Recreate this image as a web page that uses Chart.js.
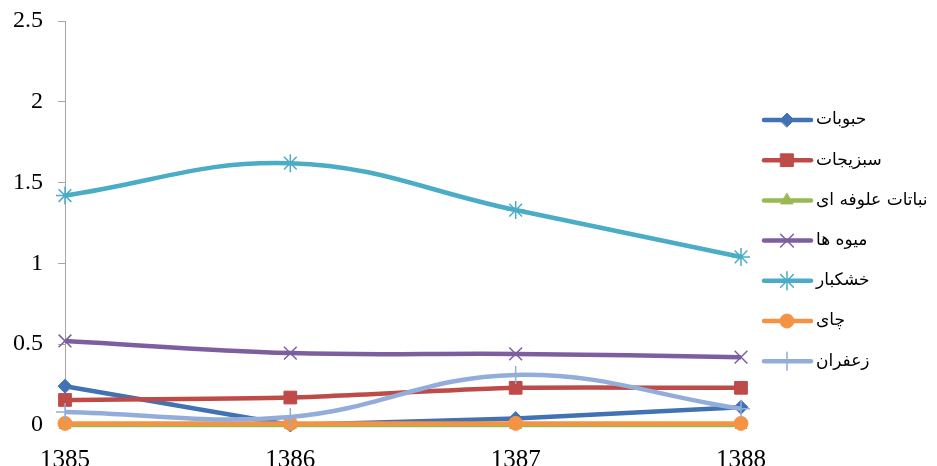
<!DOCTYPE html>
<html>
<head>
<meta charset="utf-8">
<script src="https://cdn.jsdelivr.net/npm/chart.js@4/dist/chart.umd.min.js"></script>
<style>
  html, body { margin: 0; padding: 0; background: #fff; overflow: hidden; }
  #wrap { width: 937px; height: 466px; }
</style>
</head>
<body>
<div id="wrap"><canvas id="lineChart" width="937" height="466"></canvas></div>
<script>
const years = ['1385', '1386', '1387', '1388'];

const hobubat   = [0.24, 0.00, 0.04, 0.11];
const sabzijat  = [0.155, 0.17, 0.23, 0.23];
const olufe     = [0.00, 0.00, 0.00, 0.00];
const mive      = [0.52, 0.445, 0.44, 0.42];
const khoshkbar = [1.42, 1.62, 1.33, 1.04];
const chay      = [0.01, 0.01, 0.01, 0.01];
const zafaran   = [0.08, 0.05, 0.31, 0.10];

const yTicks = [0, 0.5, 1, 1.5, 2, 2.5];

// one entry per crop group: name, values, colour, marker
const series = [
    { label: 'حبوبات',          data: hobubat,   color: '#4172B4', point: 'rectRot',  radius: 7, tension: 0 },
    { label: 'سبزیجات',         data: sabzijat,  color: '#BE4B48', point: 'rect',     radius: 9, tension: 0.2 },
    { label: 'نباتات علوفه ای', data: olufe,     color: '#98B954', point: 'triangle', radius: 7, tension: 0 },
    { label: 'میوه ها',         data: mive,      color: '#7D5FA0', point: 'crossRot', radius: 9, tension: 0.4 },
    { label: 'خشکبار',          data: khoshkbar, color: '#4AACC5', point: 'star',     radius: 9, tension: 0.4 },
    { label: 'چای',             data: chay,      color: '#F59345', point: 'circle',   radius: 7, tension: 0 },
    { label: 'زعفران',          data: zafaran,   color: '#93ADDA', point: 'cross',    radius: 9, tension: 0.4 }
];

const thinMarkers = ['crossRot', 'star', 'cross'];

const datasets = series.map((s, i) => ({
    label: s.label,
    data: s.data,
    borderColor: s.color,
    backgroundColor: s.color,
    borderWidth: 4.5,
    tension: s.tension,
    pointStyle: s.point,
    pointRadius: s.radius,
    pointBorderWidth: thinMarkers.includes(s.point) ? 1.5 : 1,
    pointBorderColor: s.color,
    pointBackgroundColor: s.color,
    order: series.length - i,
    clip: false
}));

// legend on the right: line sample with the marker in the middle, text after it
const sideLegend = {
    id: 'sideLegend',
    afterDraw(chart) {
        const ctx = chart.ctx;
        ctx.save();
        series.forEach((s, i) => {
            const y = 120 + i * 40.2;
            ctx.strokeStyle = s.color;
            ctx.lineWidth = 4.5;
            ctx.lineCap = 'round';
            ctx.beginPath();
            ctx.moveTo(764, y);
            ctx.lineTo(811, y);
            ctx.stroke();
            ctx.fillStyle = s.color;
            ctx.lineWidth = thinMarkers.includes(s.point) ? 1.5 : 1;
            Chart.helpers.drawPoint(ctx, { pointStyle: s.point, radius: s.radius, rotation: 0, borderWidth: ctx.lineWidth }, 787, y);
            ctx.fillStyle = '#000';
            ctx.font = '17px "DejaVu Sans"';
            ctx.textAlign = 'left';
            ctx.textBaseline = 'middle';
            ctx.fillText(s.label, 816, y);
        });
        ctx.restore();
    }
};

new Chart(document.getElementById('lineChart').getContext('2d'), {
    type: 'line',
    data: { labels: years, datasets: datasets },
    options: {
        responsive: false,
        animation: false,
        layout: { padding: { top: 21, right: 196, left: 0, bottom: 0 } },
        plugins: {
            legend: { display: false },
            tooltip: { enabled: false }
        },
        scales: {
            x: {
                offset: false,
                border: { display: true, color: '#A6A6A6', width: 1 },
                grid: { display: false },
                ticks: {
                    color: '#000',
                    font: { family: '"Liberation Serif"', size: 25 },
                    padding: 12,
                    maxRotation: 0
                },
                afterFit(scale) { scale.height = 41; }
            },
            y: {
                min: 0,
                max: 2.5,
                border: { display: true, color: '#A6A6A6', width: 1 },
                grid: { drawOnChartArea: false, drawTicks: true, tickLength: 7, color: '#A6A6A6' },
                afterBuildTicks(scale) { scale.ticks = yTicks.map(v => ({ value: v })); },
                ticks: {
                    color: '#000',
                    font: { family: '"Liberation Serif"', size: 24 },
                    padding: 15,
                    callback: v => String(v)
                },
                afterFit(scale) {
                    scale.width = 65;
                    // top label may overhang the plot; keep the plot top at the padding
                    scale.paddingTop = 0;
                    scale.paddingBottom = 0;
                }
            }
        }
    },
    plugins: [sideLegend]
});
</script>
</body>
</html>
